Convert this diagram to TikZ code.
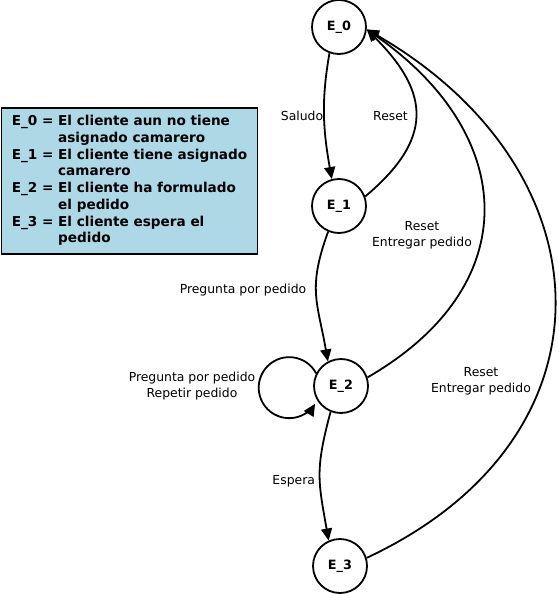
\documentclass[tikz,border=0pt]{standalone}
\usepackage{fontspec}
\setmainfont{DejaVu Sans}
\usepackage{xcolor}
\usetikzlibrary{arrows.meta}
\definecolor{legendblue}{HTML}{ADD8E6}
\newcommand{\lblfont}{\fontsize{12.4}{15.8}\selectfont}
\newcommand{\statefont}{\fontsize{12.8}{14}\selectfont\bfseries}
\newcommand{\legendfont}{\fontsize{13.6}{16.7}\selectfont\bfseries}

\begin{document}
\begin{tikzpicture}[>={Triangle[length=12pt,width=11pt]}, line width=1.8pt, x=1pt, y=1pt,
  state/.style={circle, draw, minimum size=54pt, inner sep=0pt, font=\statefont},
  lbl/.style={font=\lblfont, align=center, inner sep=0pt}]
  \useasboundingbox (0,0) rectangle (558,-594);
  \node[state] (E0) at (339,-27) {E\_0};
  \node[state] (E1) at (339,-206) {E\_1};
  \node[state] (E2) at (341,-386) {E\_2};
  \node[state] (E3) at (340,-566) {E\_3};
  \node[draw, fill=legendblue, minimum width=256pt, minimum height=146pt,
    inner sep=0pt, font=\legendfont] (legend) at (129.5,-181) {%
    \begin{tabular}{@{}l@{ }l@{}}
      E\_0 = & El cliente aun no tiene\\
             & asignado camarero\\
      E\_1 = & El cliente tiene asignado\\
             & camarero\\
      E\_2 = & El cliente ha formulado\\
             & el pedido\\
      E\_3 = & El cliente espera el\\
             & pedido
    \end{tabular}};
  \draw[->] (E0.250) to[out=-100, in=100] (E1.105);
  \draw[->] (E1.20) to[out=40, in=-45, looseness=1.37] (E0.-5);
  \draw[->] (E1.247) to[out=-110, in=100, looseness=1.2] (E2.118);
  \draw[->] (E2.18) to[out=30, in=-35, looseness=1.35] (E0.-5);
  \draw[->] (E2.153) arc[start angle=28, end angle=328, radius=30.5];
  \draw[->] (E2.248) to[out=-105, in=100, looseness=1.2] (E3.114);
  \draw[->] (E3.17) to[out=25, in=-30, looseness=1.37] (E0.-5);
  \node[lbl] (lsaludo) at (302,-115.7) {Saludo};
  \node[lbl] (lreset) at (390.5,-115.7) {Reset};
  \node[lbl] (lpregunta) at (243,-290) {Pregunta por pedido};
  \node[lbl] (lresetmid) at (422,-235) {Reset\\Entregar pedido};
  \node[lbl] (lrepetir) at (192,-386) {Pregunta por pedido\\Repetir pedido};
  \node[lbl] (lespera) at (293.7,-481.7) {Espera};
  \node[lbl] (lresetout) at (481,-381) {Reset\\Entregar pedido};
\end{tikzpicture}
\end{document}
